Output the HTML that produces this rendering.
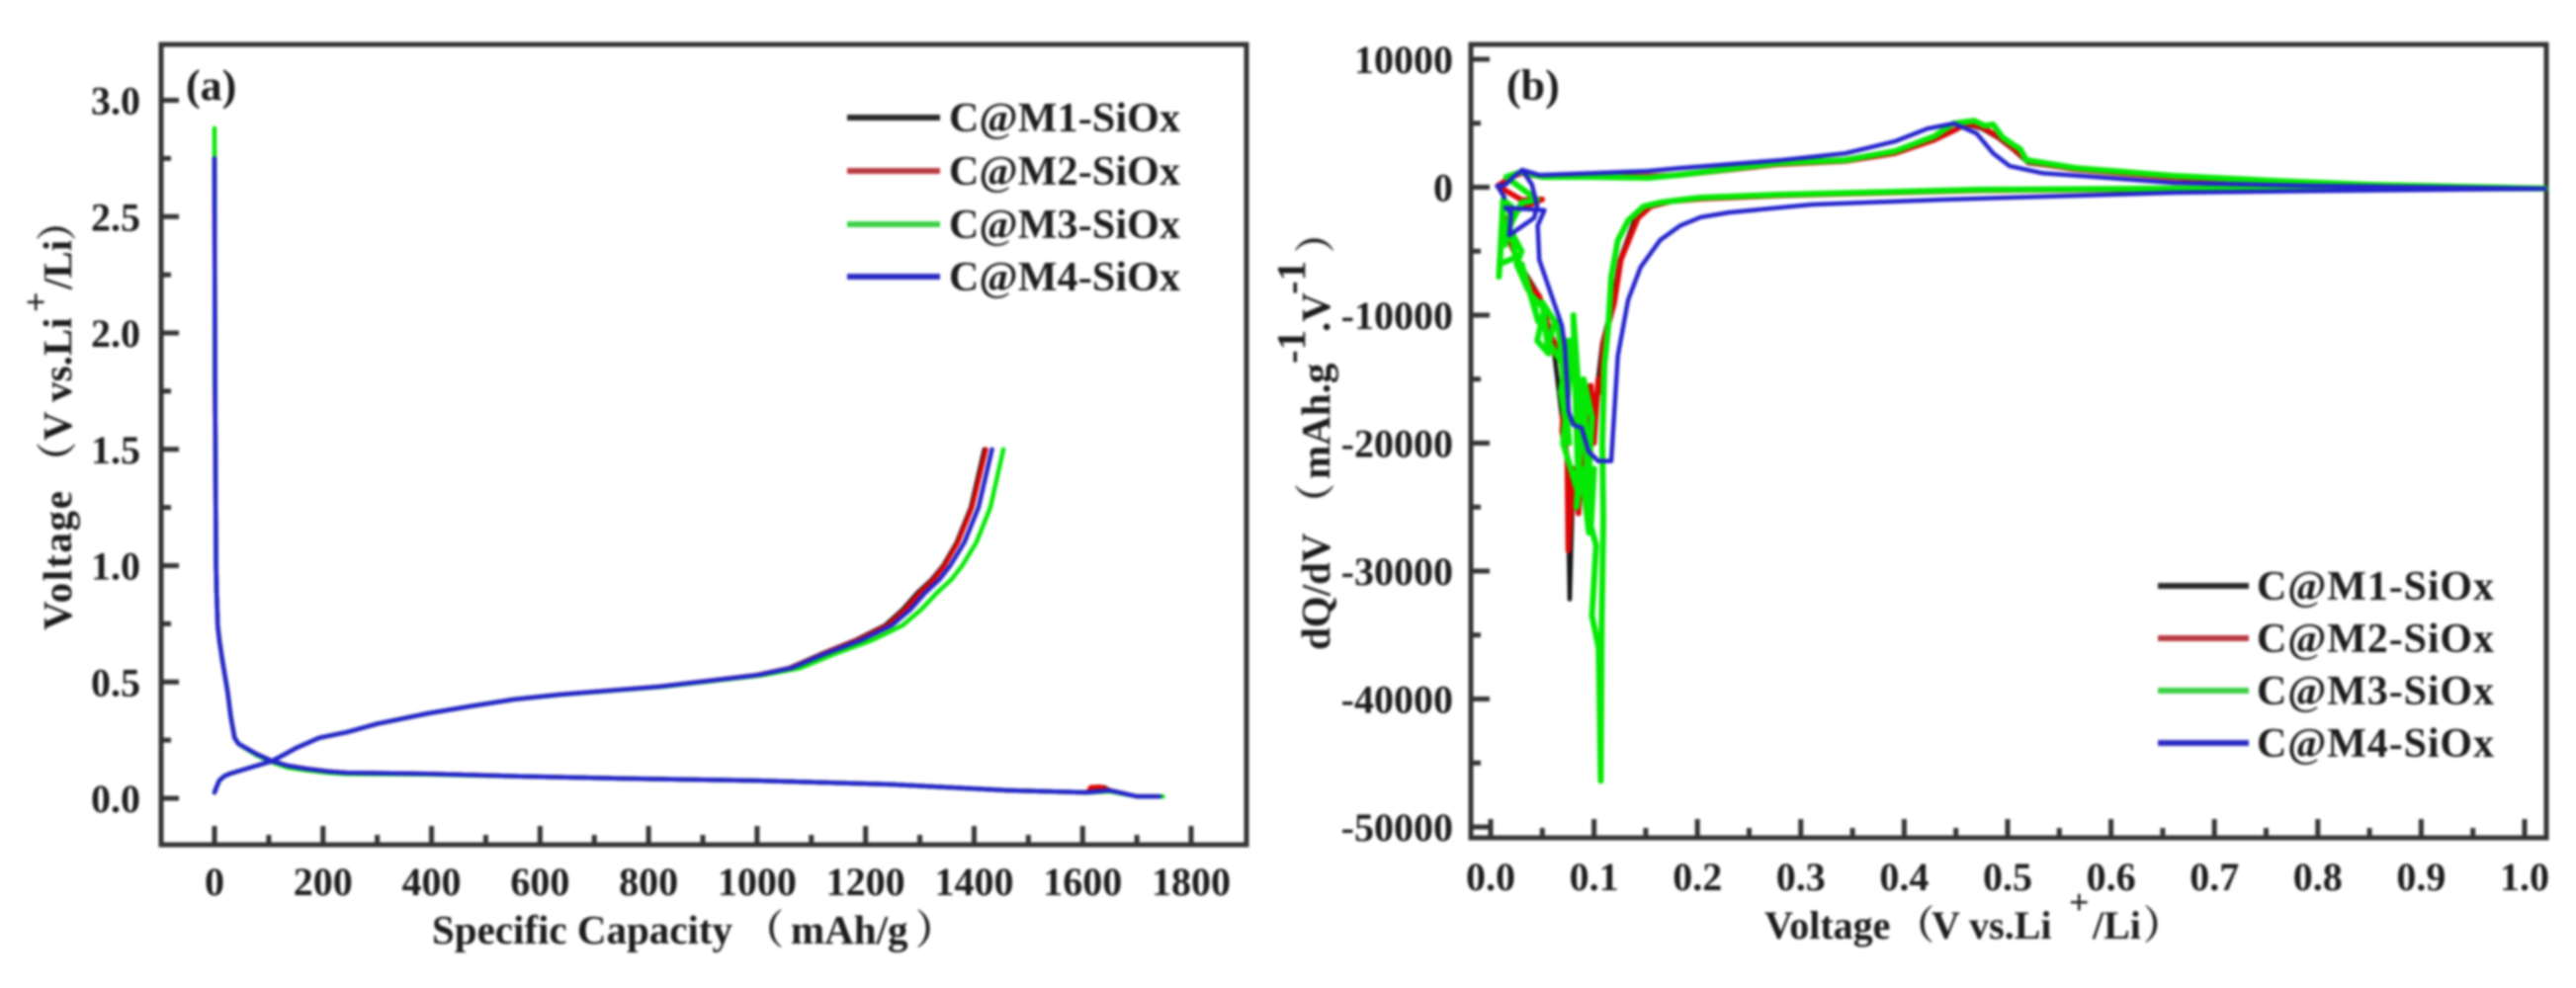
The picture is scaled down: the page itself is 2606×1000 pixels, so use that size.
<!DOCTYPE html>
<html lang="en">
<head>
<meta charset="utf-8">
<title>C@M-SiOx charge/discharge and dQ/dV curves</title>
<style>
  html, body { margin: 0; padding: 0; background: #fff; }
  body { width: 2606px; height: 1000px; overflow: hidden; }
  svg { display: block; filter: blur(1.3px); }
  text { font-family: "Liberation Serif", "Noto Serif CJK SC", serif; font-weight: bold; fill: #1c1c1c; }
</style>
</head>
<body>
<svg id="figure" xmlns="http://www.w3.org/2000/svg" width="2606" height="1000" viewBox="0 0 2606 1000">
  <rect x="0" y="0" width="2606" height="1000" fill="#fff"/>

  <g id="panelA">
    <rect x="163" y="45" width="1098" height="810" fill="none" stroke="#333" stroke-width="5"/>
    <g id="ticksA"></g>
    <g id="linesA"></g>
    <text x="188" y="101" font-size="44">(a)</text>
    <g font-size="41">
      <text x="437" y="955">Specific Capacity</text>
      <text x="752" y="955">（</text>
      <text x="800" y="955">mAh/g</text>
      <text x="926" y="955">）</text>
    </g>
    <g font-size="41">
      <text transform="translate(72,638) rotate(-90)" textLength="141" lengthAdjust="spacing">Voltage</text>
      <text transform="translate(72,488) rotate(-90)">（</text>
      <text transform="translate(72,446) rotate(-90)">V vs.Li</text>
      <text transform="translate(48,316) rotate(-90)" font-size="36">+</text>
      <text transform="translate(72,293) rotate(-90)">/Li</text>
      <text transform="translate(72,244) rotate(-90)">）</text>
    </g>
    <g id="legendA"></g>
  </g>

  <g id="panelB">
    <rect x="1488" y="45" width="1088" height="803" fill="none" stroke="#333" stroke-width="5"/>
    <g id="ticksB"></g>
    <g id="linesB"></g>
    <text x="1524" y="101" font-size="44">(b)</text>
    <g font-size="40">
      <text x="1785" y="950">Voltage</text>
      <text x="1917" y="950">（</text>
      <text x="1954" y="950">V vs.Li</text>
      <text x="2093" y="925" font-size="36">+</text>
      <text x="2117" y="950">/Li</text>
      <text x="2168" y="950">）</text>
    </g>
    <g font-size="41">
      <text transform="translate(1345,658) rotate(-90)">dQ/dV</text>
      <text transform="translate(1345,530) rotate(-90)">（</text>
      <text transform="translate(1345,485) rotate(-90)">mAh.g</text>
      <text transform="translate(1320,368) rotate(-90)">-1</text>
      <text transform="translate(1345,336) rotate(-90)">.V</text>
      <text transform="translate(1320,298) rotate(-90)">-1</text>
      <text transform="translate(1345,256) rotate(-90)">）</text>
    </g>
    <g id="legendB"></g>
  </g>
</svg>

<script>
// ---- shared ----
const seriesNames = ["C@M1-SiOx", "C@M2-SiOx", "C@M3-SiOx", "C@M4-SiOx"];

// ---- panel (a) tick values ----
const capacityMajorTicks = [0, 200, 400, 600, 800, 1000, 1200, 1400, 1600, 1800];
const capacityMinorTicks = [100, 300, 500, 700, 900, 1100, 1300, 1500, 1700];
const voltageMajorTicks = ["0.0", "0.5", "1.0", "1.5", "2.0", "2.5", "3.0"];
const voltageMinorTicks = [0.25, 0.75, 1.25, 1.75, 2.25, 2.75];

// ---- panel (a) discharge curves ----
const m1DisCap = [0, 1, 3, 4, 6, 9, 14, 24, 30, 37, 44, 57, 78, 106, 135, 170, 210, 242, 394, 552, 758, 1002, 1244, 1463, 1609, 1620, 1640, 1650, 1700, 1735];
const m1DisVolt = [2.75, 1.8, 1.0, 0.88, 0.74, 0.68, 0.6, 0.46, 0.35, 0.26, 0.235, 0.217, 0.19, 0.16, 0.14, 0.127, 0.115, 0.11, 0.105, 0.095, 0.085, 0.076, 0.06, 0.034, 0.025, 0.047, 0.047, 0.034, 0.008, 0.008];
const m2DisCap = [0, 1, 3, 4, 6, 9, 14, 24, 30, 37, 44, 57, 78, 106, 135, 170, 210, 242, 394, 552, 758, 1002, 1244, 1463, 1609, 1615, 1632, 1650, 1700, 1738];
const m2DisVolt = [2.75, 1.8, 1.0, 0.88, 0.74, 0.68, 0.6, 0.46, 0.35, 0.26, 0.235, 0.217, 0.19, 0.16, 0.14, 0.127, 0.115, 0.11, 0.105, 0.095, 0.085, 0.076, 0.06, 0.034, 0.025, 0.048, 0.05, 0.034, 0.008, 0.008];
const m3DisCap = [0, 1, 3, 4, 6, 9, 14, 24, 30, 37, 44, 57, 78, 106, 135, 170, 210, 242, 394, 552, 758, 1002, 1244, 1463, 1609, 1650, 1700, 1748];
const m3DisVolt = [2.88, 1.8, 1.0, 0.88, 0.74, 0.68, 0.6, 0.46, 0.35, 0.26, 0.235, 0.215, 0.185, 0.155, 0.132, 0.12, 0.11, 0.105, 0.103, 0.095, 0.085, 0.076, 0.06, 0.034, 0.025, 0.03, 0.008, 0.008];
const m4DisCap = [0, 1, 3, 4, 6, 9, 14, 24, 30, 37, 44, 57, 78, 106, 135, 170, 210, 242, 394, 552, 758, 1002, 1244, 1463, 1609, 1650, 1700, 1742];
const m4DisVolt = [2.75, 1.8, 1.0, 0.88, 0.74, 0.68, 0.6, 0.46, 0.35, 0.26, 0.235, 0.217, 0.19, 0.16, 0.14, 0.127, 0.115, 0.11, 0.105, 0.095, 0.085, 0.076, 0.06, 0.034, 0.025, 0.034, 0.008, 0.008];

// ---- panel (a) charge curves ----
const chargeVolt = [0.025, 0.05, 0.077, 0.095, 0.106, 0.132, 0.16, 0.19, 0.217, 0.26, 0.285, 0.32, 0.365, 0.395, 0.425, 0.446, 0.48, 0.53, 0.56, 0.62, 0.68, 0.743, 0.81, 0.884, 0.94, 1.0, 1.1, 1.25, 1.5];
const m1ChgCap = [0, 4, 9, 18, 29, 66, 106, 130, 151, 193, 245, 300, 394, 470, 552, 637, 820, 1000, 1060, 1118, 1182, 1236, 1268, 1296, 1322, 1343, 1368, 1394, 1419];
const m2ChgCap = [0, 4, 9, 18, 29, 66, 106, 130, 151, 193, 245, 300, 394, 470, 552, 637, 820, 1000, 1062, 1120, 1185, 1240, 1272, 1300, 1325, 1345, 1370, 1396, 1422];
const m3ChgCap = [0, 4, 9, 18, 29, 66, 106, 130, 151, 193, 245, 300, 394, 470, 552, 640, 826, 1012, 1080, 1142, 1212, 1268, 1302, 1332, 1358, 1378, 1404, 1430, 1454];
const m4ChgCap = [0, 4, 9, 18, 29, 66, 106, 130, 151, 193, 245, 300, 394, 470, 552, 637, 820, 1002, 1064, 1124, 1192, 1248, 1282, 1310, 1336, 1356, 1382, 1408, 1433];

// ---- panel (b) tick values ----
const dvMajorTicks = ["0.0", "0.1", "0.2", "0.3", "0.4", "0.5", "0.6", "0.7", "0.8", "0.9", "1.0"];
const dvMinorTicks = [0.05, 0.15, 0.25, 0.35, 0.45, 0.55, 0.65, 0.75, 0.85, 0.95];
const dqMajorTicks = [10000, 0, -10000, -20000, -30000, -40000, -50000];
const dqMinorTicks = [5000, -5000, -15000, -25000, -35000, -45000];

// ---- panel (b) dQ/dV curves, listed in drawing order ----
const m1DvV = [1.02, 0.85, 0.66, 0.47, 0.279, 0.203, 0.175, 0.155, 0.14, 0.125, 0.118, 0.108, 0.104, 0.1, 0.096, 0.09, 0.085, 0.08, 0.0765, 0.074, 0.069, 0.06, 0.047, 0.026, 0.012, 0.02, 0.05, 0.03, 0.0067, 0.02, 0.03, 0.05, 0.1, 0.15, 0.1835, 0.279, 0.343, 0.391, 0.429, 0.45, 0.46, 0.475, 0.49, 0.506, 0.52, 0.566, 0.661, 0.757, 0.85, 1.02];
const m1DvQ = [-100, -100, -150, -250, -650, -900, -1100, -1500, -2400, -5700, -9100, -12200, -15000, -19000, -15500, -20000, -25000, -22000, -32200, -21000, -18000, -12000, -8500, -5700, -3000, -2000, -950, -1000, 100, 800, 1100, 800, 850, 850, 950, 1800, 2050, 2650, 3700, 4500, 4900, 4600, 3900, 2900, 1900, 1400, 750, 450, 150, -100];
const m2DvV = [1.02, 0.85, 0.66, 0.47, 0.279, 0.203, 0.175, 0.155, 0.1425, 0.126, 0.1195, 0.109, 0.106, 0.104, 0.1, 0.097, 0.1, 0.093, 0.097, 0.088, 0.085, 0.08, 0.075, 0.074, 0.069, 0.072, 0.068, 0.058, 0.062, 0.053, 0.047, 0.04, 0.026, 0.012, 0.02, 0.05, 0.03, 0.0067, 0.02, 0.03, 0.05, 0.1, 0.15, 0.1835, 0.279, 0.343, 0.391, 0.429, 0.45, 0.46, 0.475, 0.49, 0.506, 0.52, 0.566, 0.661, 0.757, 0.85, 1.02];
const m2DvQ = [-100, -100, -150, -250, -650, -900, -1100, -1500, -2400, -5670, -9070, -12160, -16000, -15000, -20000, -15500, -18500, -19000, -16000, -21000, -25500, -22000, -28400, -21000, -19100, -15000, -13400, -11500, -13000, -10000, -8500, -7800, -5700, -3000, -2000, -950, -1000, 100, 800, 1100, 800, 850, 850, 950, 1800, 2050, 2650, 3700, 4500, 5000, 4700, 4000, 3000, 2000, 1400, 750, 450, 150, -100];
const m3DvV = [1.02, 0.85, 0.66, 0.47, 0.279, 0.203, 0.1835, 0.164, 0.148, 0.133, 0.123, 0.1166, 0.1138, 0.11, 0.108, 0.109, 0.1075, 0.1065, 0.1045, 0.098, 0.102, 0.097, 0.1, 0.094, 0.098, 0.09, 0.095, 0.088, 0.083, 0.09, 0.087, 0.08, 0.085, 0.07, 0.08, 0.075, 0.068, 0.076, 0.065, 0.071, 0.0564, 0.062, 0.05, 0.056, 0.045, 0.052, 0.04, 0.046, 0.03, 0.036, 0.025, 0.03, 0.02, 0.024, 0.0086, 0.012, 0.008, 0.012, 0.02, 0.014, 0.02, 0.03, 0.045, 0.015, 0.03, 0.05, 0.1, 0.152, 0.1835, 0.279, 0.343, 0.391, 0.429, 0.448, 0.4675, 0.478, 0.486, 0.495, 0.506, 0.512, 0.518, 0.566, 0.661, 0.757, 0.85, 1.02];
const m3DvQ = [-100, -100, -100, -190, -580, -810, -1000, -1200, -1500, -2600, -4150, -7000, -10850, -13940, -20000, -26000, -34000, -46400, -36000, -33500, -28000, -26500, -22000, -24000, -18000, -15000, -27000, -22000, -25000, -16000, -18000, -10000, -24000, -20000, -12000, -12000, -16000, -20000, -10500, -14000, -12160, -10500, -9000, -13000, -12000, -9500, -8500, -10500, -6000, -8000, -6000, -5000, -3500, -5500, -6000, -2000, -7000, -1000, -1500, -4500, -2800, -1200, -1000, 800, 1200, 800, 800, 730, 970, 1890, 2120, 2820, 3980, 4980, 5200, 4800, 4900, 3900, 3280, 3000, 2120, 1500, 890, 500, 190, -100];
const m4DvV = [1.02, 0.789, 0.661, 0.439, 0.311, 0.231, 0.203, 0.1835, 0.164, 0.145, 0.133, 0.123, 0.1166, 0.104, 0.0946, 0.088, 0.08, 0.0755, 0.0717, 0.069, 0.047, 0.0455, 0.052, 0.0143, 0.02, 0.018, 0.042, 0.045, 0.04, 0.0306, 0.021, 0.0143, 0.0067, 0.0134, 0.0067, 0.0143, 0.021, 0.0306, 0.047, 0.1, 0.152, 0.1835, 0.279, 0.343, 0.391, 0.4225, 0.448, 0.47, 0.486, 0.502, 0.534, 0.597, 0.661, 0.789, 1.02];
const m4DvQ = [-115, -300, -425, -965, -1350, -1970, -2350, -3000, -4130, -6250, -8800, -13170, -21400, -21400, -20650, -18800, -18570, -17560, -12400, -10850, -5670, -3000, -1800, -1600, -2000, -3750, -2400, -1500, 200, 1350, 730, 200, 100, -810, 100, 200, 730, 1350, 950, 1100, 1270, 1500, 2100, 2650, 3580, 4580, 4980, 4200, 2650, 1650, 1100, 730, 350, 115, -115];

// ---- axis functions ----
function xA(c) { return 217 + c * 0.5489; }
function yA(v) { return 808 - v * 235.5; }
function xB(v) { return 1508 + v * 1046; }
function yB(q) { return 189.5 - q * 0.01295; }

const NS = "http://www.w3.org/2000/svg";
const curveColors = ["#151515", "#dd0505", "#05e805", "#2424cc"];
const legendColors = ["#2a2a2a", "#b83a42", "#3fd048", "#2c2cc4"];

function shape(tag, parent, attrs) {
  const el = document.createElementNS(NS, tag);
  for (const k in attrs) el.setAttribute(k, attrs[k]);
  parent.appendChild(el);
  return el;
}

function tickMark(parent, x1, y1, x2, y2, name) {
  const el = shape("line", parent, { x1: x1, y1: y1, x2: x2, y2: y2, stroke: "#333", "stroke-width": 5 });
  
  
}

function tickLabel(parent, x, y, anchor, label, name) {
  const el = shape("text", parent, { x: x, y: y, "text-anchor": anchor, "font-size": 40 });
  el.textContent = label;
  
  
}

function curve(parent, xs, ys, xFn, yFn, color, width, name) {
  const pts = xs.map(function (x, i) { return xFn(x).toFixed(1) + "," + yFn(ys[i]).toFixed(1); }).join(" ");
  const el = shape("polyline", parent, { points: pts, fill: "none", stroke: color, "stroke-width": width, "stroke-linejoin": "round", "stroke-linecap": "round" });
  
  
}

function legendRow(parent, x1, x2, y, textX, textLen, color, label, name) {
  const ln = shape("line", parent, { x1: x1, y1: y, x2: x2, y2: y, stroke: color, "stroke-width": 6 });
  
  
  const tx = shape("text", parent, { x: textX, y: y + 14, "font-size": 42, textLength: textLen, lengthAdjust: "spacing" });
  tx.textContent = label;
  
  
}

// ---- panel (a) ----
const ticksA = document.getElementById("ticksA");
capacityMajorTicks.forEach(function (c) {
  tickMark(ticksA, xA(c), 855, xA(c), 836, "x-tick-major");
  tickLabel(ticksA, xA(c), 906, "middle", String(c), "x-tick-label");
});
capacityMinorTicks.forEach(function (c) {
  tickMark(ticksA, xA(c), 855, xA(c), 845, "x-tick-minor");
});
voltageMajorTicks.forEach(function (v) {
  tickMark(ticksA, 163, yA(+v), 181, yA(+v), "y-tick-major");
  tickLabel(ticksA, 142, yA(+v) + 14, "end", v, "y-tick-label");
});
voltageMinorTicks.forEach(function (v) {
  tickMark(ticksA, 163, yA(v), 173, yA(v), "y-tick-minor");
});

const linesA = document.getElementById("linesA");
curve(linesA, m1DisCap, m1DisVolt, xA, yA, curveColors[0], 4.5, "m1-discharge-curve");
curve(linesA, m1ChgCap, chargeVolt, xA, yA, curveColors[0], 4.5, "m1-charge-curve");
curve(linesA, m2DisCap, m2DisVolt, xA, yA, curveColors[1], 4.5, "m2-discharge-curve");
curve(linesA, m2ChgCap, chargeVolt, xA, yA, curveColors[1], 4.5, "m2-charge-curve");
curve(linesA, m3DisCap, m3DisVolt, xA, yA, curveColors[2], 4.5, "m3-discharge-curve");
curve(linesA, m3ChgCap, chargeVolt, xA, yA, curveColors[2], 4.5, "m3-charge-curve");
curve(linesA, m4DisCap, m4DisVolt, xA, yA, curveColors[3], 4.5, "m4-discharge-curve");
curve(linesA, m4ChgCap, chargeVolt, xA, yA, curveColors[3], 4.5, "m4-charge-curve");

const legendA = document.getElementById("legendA");
[119, 173, 227, 280].forEach(function (y, i) {
  legendRow(legendA, 857, 951, y, 960, 234, legendColors[i], seriesNames[i], "legend-a-entry");
});

// ---- panel (b) ----
const ticksB = document.getElementById("ticksB");
dvMajorTicks.forEach(function (v) {
  tickMark(ticksB, xB(+v), 848, xB(+v), 829, "x-tick-major");
  tickLabel(ticksB, xB(+v), 901, "middle", v, "x-tick-label");
});
dvMinorTicks.forEach(function (v) {
  tickMark(ticksB, xB(v), 848, xB(v), 838, "x-tick-minor");
});
dqMajorTicks.forEach(function (q) {
  tickMark(ticksB, 1488, yB(q), 1507, yB(q), "y-tick-major");
  tickLabel(ticksB, 1470, yB(q) + 14, "end", String(q), "y-tick-label");
});
dqMinorTicks.forEach(function (q) {
  tickMark(ticksB, 1488, yB(q), 1498, yB(q), "y-tick-minor");
});

const linesB = document.getElementById("linesB");
curve(linesB, m1DvV, m1DvQ, xB, yB, curveColors[0], 4.5, "m1-dqdv-curve");
curve(linesB, m2DvV, m2DvQ, xB, yB, curveColors[1], 5.5, "m2-dqdv-curve");
curve(linesB, m3DvV, m3DvQ, xB, yB, curveColors[2], 6, "m3-dqdv-curve");
curve(linesB, m4DvV, m4DvQ, xB, yB, curveColors[3], 4.5, "m4-dqdv-curve");

const legendB = document.getElementById("legendB");
[593, 646, 699, 752].forEach(function (y, i) {
  legendRow(legendB, 2183, 2275, y, 2283, 240, legendColors[i], seriesNames[i], "legend-b-entry");
});
</script>
</body>
</html>
